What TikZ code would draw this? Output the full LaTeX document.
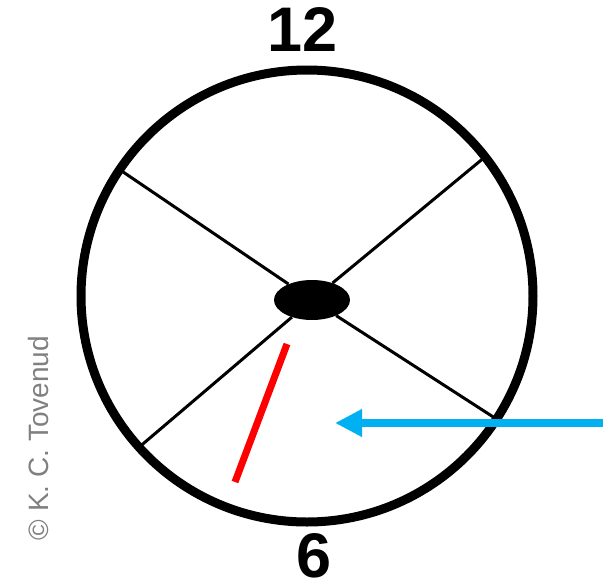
\documentclass[tikz,border=0pt]{standalone}
\usepackage{fontspec}
\setmainfont{Liberation Sans}
\usetikzlibrary{shapes.geometric,arrows.meta}
\definecolor{handred}{RGB}{255,0,0}
\definecolor{arrowblue}{RGB}{0,176,240}
\tikzset{
  face/.style={circle, draw, line width=9pt, minimum size=452pt, inner sep=0pt, outer sep=0pt},
  hub/.style={ellipse, fill=black, minimum width=76pt, minimum height=40pt, inner sep=0pt},
  spoke/.style={line width=3pt},
  numeral/.style={font=\fontsize{63}{63}\selectfont\bfseries, inner sep=0pt},
  pointer/.style={arrowblue, line width=8pt, -{Triangle[length=27pt,width=26pt]}},
}
\begin{document}
\begin{tikzpicture}[x=1pt,y=-1pt]
        \def\cx{307}
        \def\cy{296}
        \useasboundingbox (0,0) rectangle (616,587);
        % clock face and hub
        \node[face] (face) at (\cx,\cy) {};
        \node[hub] (hub) at (312,300) {};
        % spokes
        \draw[spoke] (hub) -- (face.146.5);
        \draw[spoke] (hub) -- (face.38.8);
        \draw[spoke] (hub) -- (face.222.6);
        \draw[spoke] (hub) -- (face.327.7);
        % numbers
        \node[numeral] (twelve) at (303,30) {12};
        \node[numeral] (six) at (314,556) {6};
        % red hand
        \coordinate (handtop) at (287,344);
        \coordinate (handend) at (235,482);
        \draw[handred, line width=7pt] (handtop) -- (handend);
        % blue arrow
        \coordinate (tail) at (603,423);
        \coordinate (tip) at (335,423);
        \draw[pointer] (tail) -- (tip);
        % credit
        \node[rotate=90, text=black!50, inner sep=0pt, font=\fontsize{28}{28}\selectfont] (credit) at (38,438) {© K. C. Tovenud};
\end{tikzpicture}
\end{document}
